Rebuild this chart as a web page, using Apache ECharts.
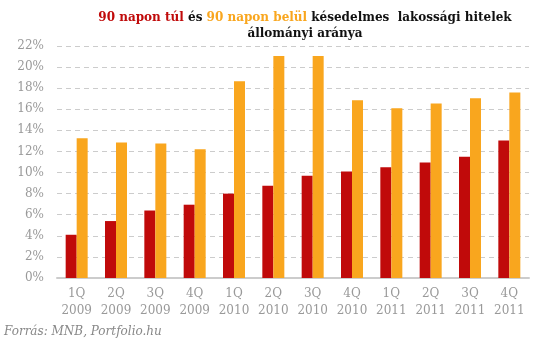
<!DOCTYPE html>
<html>
<head>
<meta charset="utf-8">
<script src="https://cdn.jsdelivr.net/npm/echarts@6/dist/echarts.min.js"></script>
<style>
  html, body { margin: 0; padding: 0; background: #fff; }
  #chart { width: 554px; height: 344px; }
</style>
</head>
<body>
<div id="chart"></div>
<script>
// Quarterly categories (quarter / year)
const quarters = ['1Q', '2Q', '3Q', '4Q', '1Q', '2Q', '3Q', '4Q', '1Q', '2Q', '3Q', '4Q'];
const years = ['2009', '2009', '2009', '2009', '2010', '2010', '2010', '2010', '2011', '2011', '2011', '2011'];

// Share of overdue household loans (%)
const over90 = [4.1, 5.4, 6.4, 6.95, 8.0, 8.75, 9.7, 10.1, 10.5, 10.95, 11.5, 13.05];
const within90 = [13.25, 12.85, 12.75, 12.2, 18.65, 21.05, 21.05, 16.85, 16.1, 16.55, 17.05, 17.6];

const yTicks = { min: 0, max: 22, step: 2 };

const categories = quarters.map((q, i) => q + '\n' + years[i]);

const RED = '#C00A0A';
const ORANGE = '#F9A61E';
const SERIF = 'Georgia, "DejaVu Serif", serif';

const chart = echarts.init(document.getElementById('chart'), null, { renderer: 'canvas' });

const titleRich = (color) => ({
  color: color, fontFamily: SERIF, fontSize: 12, fontWeight: 'bold', lineHeight: 16
});

chart.setOption({
  backgroundColor: '#fff',
  animation: false,
  title: {
    left: 300,
    top: 5,
    textAlign: 'center',
    text: '{r|90 napon túl} {k|és} {o|90 napon belül} {k|késedelmes  lakossági hitelek}\n{k|állományi aránya}',
    textStyle: {
      fontFamily: SERIF,
      fontSize: 12,
      fontWeight: 'bold',
      lineHeight: 16,
      rich: {
        r: titleRich(RED),
        o: titleRich(ORANGE),
        k: titleRich('#111')
      }
    }
  },
  graphic: [{
    type: 'text',
    left: 4,
    top: 326,
    style: {
      text: 'Forrás: MNB, Portfolio.hu',
      fill: '#888',
      font: 'italic 12px ' + SERIF
    }
  }],
  grid: { left: 57, right: 25, top: 46, bottom: 66, containLabel: false },
  xAxis: {
    type: 'category',
    data: categories,
    axisLine: { show: true, lineStyle: { color: '#cccccc', width: 2 } },
    axisTick: { show: false },
    axisLabel: {
      color: '#999',
      fontFamily: SERIF,
      fontSize: 12,
      lineHeight: 17,
      margin: 7,
      interval: 0
    }
  },
  yAxis: {
    type: 'value',
    min: yTicks.min,
    max: yTicks.max,
    interval: yTicks.step,
    axisLine: { show: false },
    axisTick: { show: false },
    axisLabel: {
      formatter: '{value}%',
      color: '#999',
      fontFamily: SERIF,
      fontSize: 12,
      margin: 13
    },
    splitLine: {
      show: true,
      lineStyle: { color: '#cccccc', type: [5, 4], width: 1 }
    }
  },
  series: [
    {
      name: '90 napon túl',
      type: 'bar',
      data: over90,
      barWidth: 11,
      barGap: '0%',
      itemStyle: { color: RED },
      z: 3
    },
    {
      name: '90 napon belül',
      type: 'bar',
      data: within90,
      barWidth: 11,
      barGap: '0%',
      itemStyle: { color: ORANGE },
      z: 3
    }
  ]
});
</script>
</body>
</html>
